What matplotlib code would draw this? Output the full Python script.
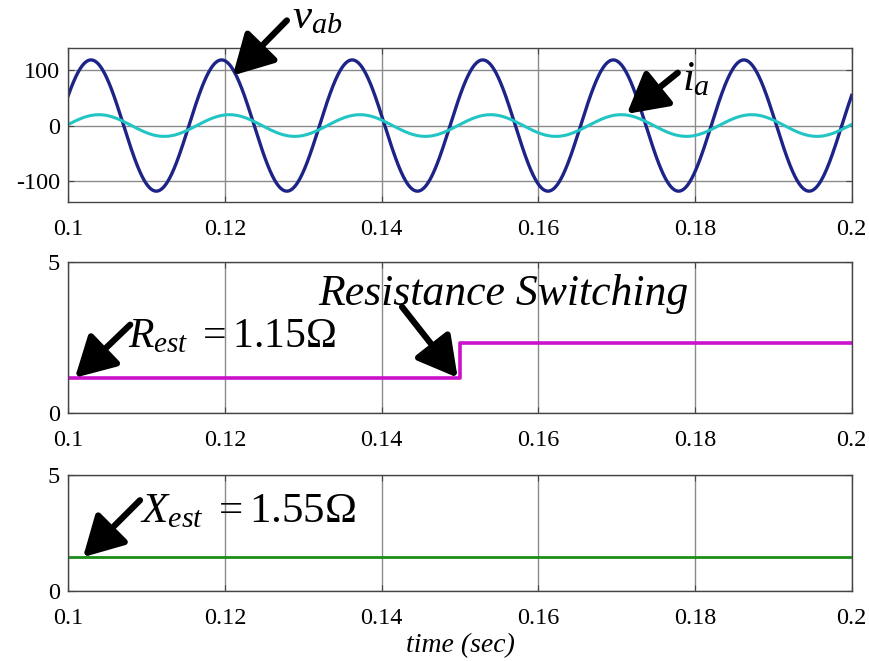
import numpy as np
import matplotlib
matplotlib.use('Agg')
import matplotlib.pyplot as plt

plt.rcParams['font.family'] = ['Liberation Serif', 'DejaVu Serif']
plt.rcParams['mathtext.fontset'] = 'custom'
plt.rcParams['mathtext.rm'] = 'Liberation Serif'
plt.rcParams['mathtext.it'] = 'Liberation Serif:italic'
plt.rcParams['axes.unicode_minus'] = False

# sinusoid parameters
freq_hz = 60.0
vab_amp = 118.0
vab_first_peak = 0.1029
ia_amp = 19.5
ia_first_peak = 0.1039

# estimated resistance / reactance (ohm)
switch_time = 0.15
r_before = 1.16
r_after = 2.32
x_est = 1.48

t_start, t_end = 0.1, 0.2
x_ticks = [0.1, 0.12, 0.14, 0.16, 0.18, 0.2]
x_tick_labels = ['0.1', '0.12', '0.14', '0.16', '0.18', '0.2']

t = np.linspace(t_start, t_end, 2000)
w = 2 * np.pi * freq_hz
vab = vab_amp * np.cos(w * (t - vab_first_peak))
ia = ia_amp * np.cos(w * (t - ia_first_peak))

fig = plt.figure(figsize=(8.69, 6.61), dpi=100)
ax1 = fig.add_axes([0.0786, 0.694, 0.9015, 0.233])
ax2 = fig.add_axes([0.0786, 0.375, 0.9015, 0.229])
ax3 = fig.add_axes([0.0786, 0.106, 0.9015, 0.175])

ax1.plot(t, vab, color='#1c2488', lw=2.4)
ax1.plot(t, ia, color='#22c4c4', lw=2.2)
ax1.set_ylim(-138, 139)
ax1.set_yticks([-100, 0, 100])

ax2.plot([t_start, switch_time, switch_time, t_end],
         [r_before, r_before, r_after, r_after], color='#cc11cc', lw=2.6)
ax2.set_ylim(0, 5)
ax2.set_yticks([0, 5])

ax3.plot([t_start, t_end], [x_est, x_est], color='#1a8c1a', lw=2.0)
ax3.set_ylim(0, 5)
ax3.set_yticks([0, 5])

for ax in (ax1, ax2, ax3):
    ax.set_xlim(t_start, t_end)
    ax.set_xticks(x_ticks)
    ax.set_xticklabels(x_tick_labels)
    ax.grid(True, color='#8a8a8a', lw=1.0)
    ax.tick_params(direction='in', top=True, right=True, labelsize=17.5,
                   length=4, color='#444444')
    ax.tick_params(axis='x', pad=12)
    ax.tick_params(axis='y', pad=6)
    for s in ax.spines.values():
        s.set_color('#444444')
        s.set_linewidth(1.0)

ax3.set_xlabel('time (sec)', fontsize=20, style='italic', labelpad=3)

arrow = dict(arrowstyle='-|>,head_length=0.9,head_width=0.5', lw=4.5,
             color='black', mutation_scale=27, shrinkA=0, shrinkB=0)

ax1.annotate('', xy=(0.1210, 90), xytext=(0.1279, 189), arrowprops=arrow,
             annotation_clip=False)
ax1.text(0.1286, 175, r'$v_{ab}$', fontsize=31, va='baseline', clip_on=False)
ax1.annotate('', xy=(0.1713, 21), xytext=(0.1778, 95), arrowprops=arrow)
ax1.text(0.1784, 63, r'$i_{a}$', fontsize=31, va='baseline')

ax2.annotate('', xy=(0.1497, 1.17), xytext=(0.1426, 3.51), arrowprops=arrow)
ax2.text(0.1319, 3.57, 'Resistance Switching', fontsize=31.5, style='italic',
         va='baseline')
ax2.annotate('', xy=(0.10085, 1.17), xytext=(0.1079, 2.92), arrowprops=arrow)
ax2.text(0.1076, 2.16, r'$R_{est}\ =1.15\Omega$', fontsize=30, va='baseline')

ax3.annotate('', xy=(0.10188, 1.46), xytext=(0.10915, 3.92), arrowprops=arrow)
ax3.text(0.1092, 2.97, r'$X_{est}\ =1.55\Omega$', fontsize=31, va='baseline')

fig.savefig('out.png', dpi=100, facecolor='white')
